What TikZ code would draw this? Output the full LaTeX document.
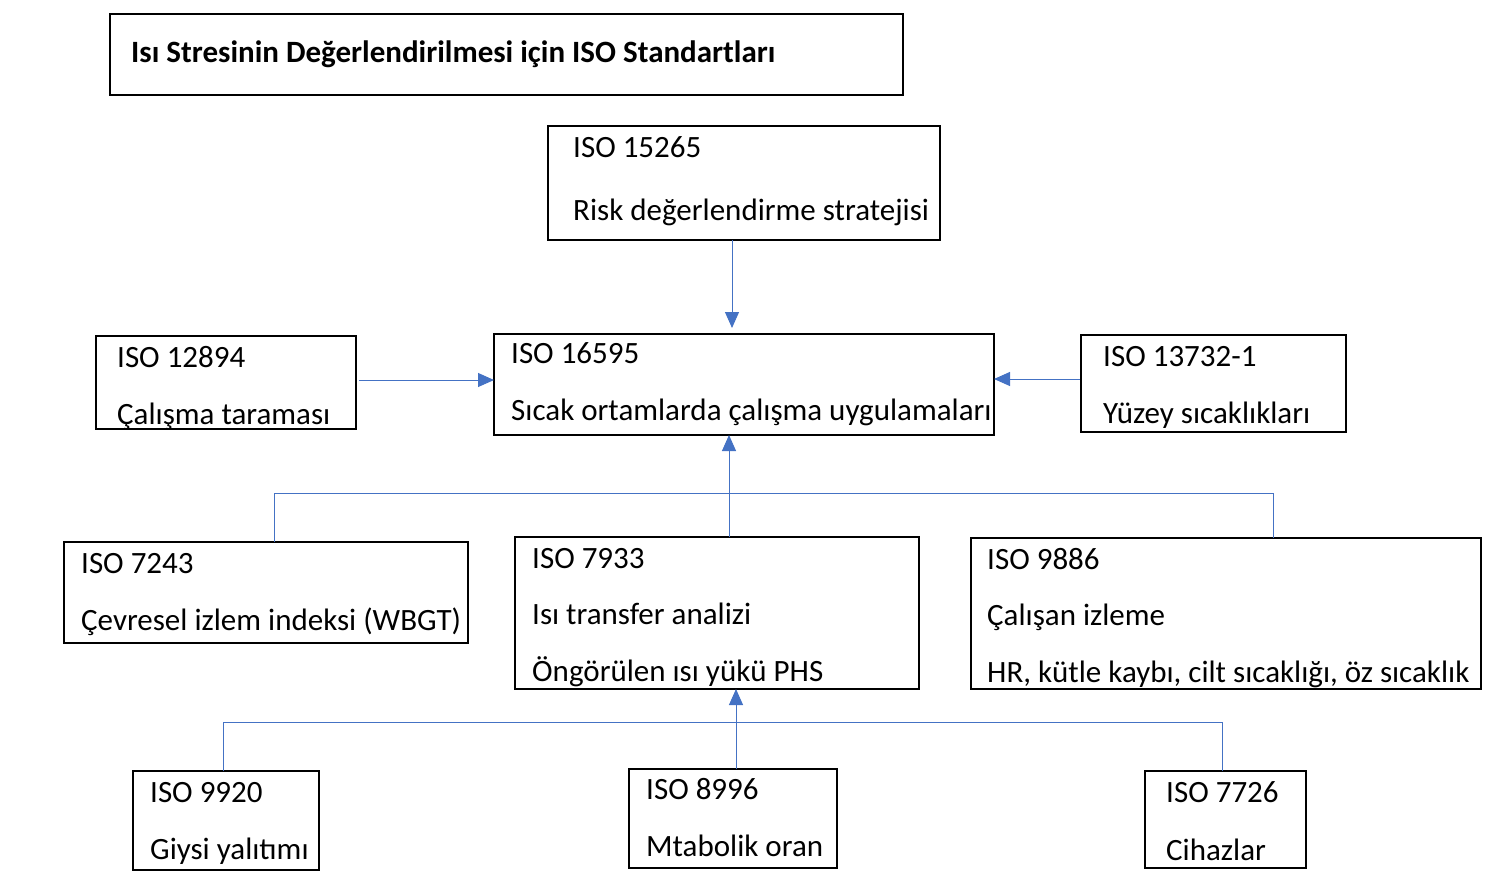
\documentclass[tikz,border=0pt]{standalone}
\usepackage{fontspec}
\setmainfont{Carlito}
\usetikzlibrary{arrows.meta,calc}
\definecolor{linkblue}{HTML}{4472C4}
\begin{document}
\begin{tikzpicture}[x=1pt,y=-1pt,
  box/.style={draw=black,line width=1.6pt,rectangle,inner sep=0pt,outer sep=0pt},
  lbl/.style={anchor=base west,inner sep=0pt,font=\fontsize{31}{36}\selectfont},
  ttl/.style={anchor=base west,inner sep=0pt,font=\fontsize{31}{36}\selectfont\bfseries},
  conn/.style={draw=linkblue,line width=1pt},
  arr/.style={conn,-{Triangle[length=16pt,width=14pt]}}]
\useasboundingbox (0,0) rectangle (1511,889);
% boxes
\node[box,minimum width=793pt,minimum height=81pt] (T) at (506.5,54.5) {};
\node[box,minimum width=392pt,minimum height=114pt] (A) at (744,183) {};
\node[box,minimum width=500pt,minimum height=101pt] (B) at (744,384.5) {};
\node[box,minimum width=260pt,minimum height=93pt] (C) at (226,382.5) {};
\node[box,minimum width=265pt,minimum height=97pt] (D) at (1213.5,383.5) {};
\node[box,minimum width=404pt,minimum height=101pt] (E) at (266,592.5) {};
\node[box,minimum width=404pt,minimum height=152pt] (F) at (717,613) {};
\node[box,minimum width=510pt,minimum height=151pt] (G) at (1226,613.5) {};
\node[box,minimum width=186pt,minimum height=99pt] (H) at (226,820.5) {};
\node[box,minimum width=208pt,minimum height=99pt] (I) at (733,818.5) {};
\node[box,minimum width=161pt,minimum height=97pt] (J) at (1225.5,819.5) {};
% texts
\node[ttl] (Tt) at (131,62) {Isı Stresinin Değerlendirilmesi için ISO Standartları};
\node[lbl] (A1) at (573,157) {ISO 15265};
\node[lbl] (A2) at (573,220) {Risk değerlendirme stratejisi};
\node[lbl] (B1) at (511,363) {ISO 16595};
\node[lbl] (B2) at (511,420) {Sıcak ortamlarda çalışma uygulamaları};
\node[lbl] (C1) at (117,367) {ISO 12894};
\node[lbl] (C2) at (117,424) {Çalışma taraması};
\node[lbl] (D1) at (1103,366) {ISO 13732-1};
\node[lbl] (D2) at (1103,423) {Yüzey sıcaklıkları};
\node[lbl] (E1) at (81,573) {ISO 7243};
\node[lbl] (E2) at (81,630) {Çevresel izlem indeksi (WBGT)};
\node[lbl] (F1) at (532,568) {ISO 7933};
\node[lbl] (F2) at (532,624) {Isı transfer analizi};
\node[lbl] (F3) at (532,681) {Öngörülen ısı yükü PHS};
\node[lbl] (G1) at (987,569) {ISO 9886};
\node[lbl] (G2) at (987,625) {Çalışan izleme};
\node[lbl] (G3) at (987,682) {HR, kütle kaybı, cilt sıcaklığı, öz sıcaklık};
\node[lbl] (H1) at (150,802) {ISO 9920};
\node[lbl] (H2) at (150,859) {Giysi yalıtımı};
\node[lbl] (I1) at (646,799) {ISO 8996};
\node[lbl] (I2) at (646,856) {Mtabolik oran};
\node[lbl] (J1) at (1166,802) {ISO 7726};
\node[lbl] (J2) at (1166,860) {Cihazlar};
% connectors
\coordinate (a1) at (732,328);
\draw[arr] (A.south -| a1) -- (a1);
\coordinate (c1) at (359,380);
\draw[arr] (c1) -- (B.west |- c1);
\coordinate (d1) at (1080,379);
\draw[arr] (d1) -- (B.east |- d1);
\coordinate (bl1) at (274,493);
\coordinate (br1) at (1273,493);
\coordinate (bm1) at (729,493);
\draw[conn] (E.north -| bl1) -- (bl1) -- (br1) -- (G.north -| br1);
\draw[conn] (F.north -| bm1) -- (bm1);
\draw[arr] (bm1) -- (B.south -| bm1);
\coordinate (bl2) at (223,722);
\coordinate (br2) at (1222,722);
\coordinate (bm2) at (736,722);
\draw[conn] (H.north -| bl2) -- (bl2) -- (br2) -- (J.north -| br2);
\draw[conn] (I.north -| bm2) -- (bm2);
\draw[arr] (bm2) -- (F.south -| bm2);
\end{tikzpicture}
\end{document}
